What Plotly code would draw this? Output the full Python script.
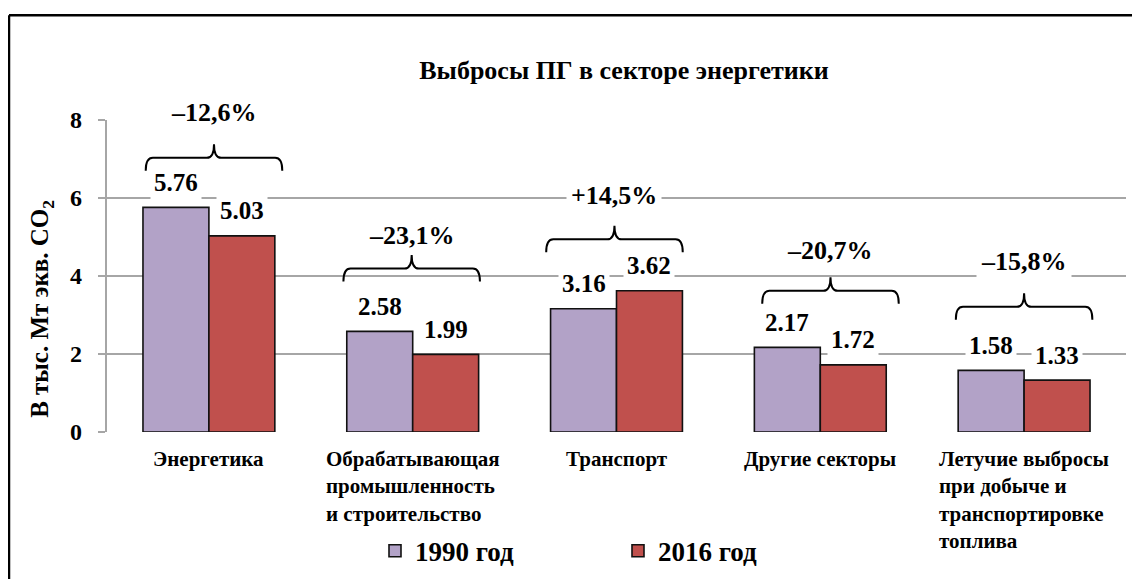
import plotly.graph_objects as go

# ---- data ----
categories = ["Энергетика",
              "Обрабатывающая промышленность и строительство",
              "Транспорт",
              "Другие секторы",
              "Летучие выбросы при добыче и транспортировке топлива"]
tick_labels = ["Энергетика",
               "Обрабатывающая<br>промышленность<br>и строительство",
               "Транспорт",
               "Другие секторы",
               "Летучие выбросы<br>при добыче и<br>транспортировке<br>топлива"]
series_names = ["1990 год", "2016 год"]
values_1990 = [5.76, 2.58, 3.16, 2.17, 1.58]
values_2016 = [5.03, 1.99, 3.62, 1.72, 1.33]
change_labels = ["–12,6%", "–23,1%", "+14,5%", "–20,7%", "–15,8%"]
y_ticks = [0, 2, 4, 6, 8]
Y_MAX = 8

# ---- annotation layout (positions of braces / change labels, in axis units) ----
brace_base = [6.70, 3.86, 4.61, 3.29, 2.88]
brace_shift = [0.025, -0.005, -0.01, 0.05, 0.0]
change_label_y = [8.18, 5.04, 6.07, 4.66, 4.36]

FONT = "Liberation Serif, Times New Roman, serif"
PURPLE = "#B2A2C7"
RED = "#C0504D"
GRID = "#A6A6A6"

fig = go.Figure()
for name, vals, col in [(series_names[0], values_1990, PURPLE),
                        (series_names[1], values_2016, RED)]:
    fig.add_trace(go.Bar(
        x=categories, y=vals, name=name,
        marker=dict(color=col, line=dict(color="#111111", width=1.6)),
        hoverinfo="x+y+name",
    ))

bar_w = (1 - 0.353) / 2
annotations = []
shapes = []

# value labels
for i in range(len(categories)):
    for v, off in [(values_1990[i], -bar_w / 2), (values_2016[i], bar_w / 2)]:
        annotations.append(dict(
            x=i + off, y=v, xref="x", yref="y", text=f"{v:.2f}",
            showarrow=False, yanchor="middle", yshift=25,
            bgcolor="white", borderpad=3,
            font=dict(family=FONT, size=25, color="black", weight="bold")))

# braces and change labels
hw = 0.335
arm = 0.33
tip = 0.35
dx = 0.035
for i in range(len(categories)):
    c = i + brace_shift[i]
    x0, x1 = c - hw, c + hw
    yb = brace_base[i]
    ym = yb + arm
    yt = ym + tip
    path = (f"M {x0},{yb} Q {x0},{ym} {x0+dx},{ym} "
            f"L {c-dx},{ym} Q {c},{ym} {c},{yt} "
            f"Q {c},{ym} {c+dx},{ym} "
            f"L {x1-dx},{ym} Q {x1},{ym} {x1},{yb}")
    shapes.append(dict(type="path", path=path, xref="x", yref="y",
                       line=dict(color="black", width=2)))
    annotations.append(dict(
        x=c, y=change_label_y[i] / Y_MAX, xref="x", yref="paper",
        text=change_labels[i],
        showarrow=False, yanchor="middle", bgcolor="white", borderpad=4,
        font=dict(family=FONT, size=26, color="black", weight="bold")))

# category labels (left aligned blocks)
for i, lab in enumerate(tick_labels):
    annotations.append(dict(
        x=i, y=0, xref="x", yref="paper", text=lab, showarrow=False,
        xanchor="center", yanchor="top", align="left", yshift=-13,
        font=dict(family=FONT, size=21, color="black", weight="bold")))

# y tick labels
for t in y_ticks:
    annotations.append(dict(
        x=-0.0226, y=t / Y_MAX, xref="paper", yref="paper", text=str(t),
        showarrow=False, xanchor="right", yanchor="middle",
        font=dict(family=FONT, size=24, color="black", weight="bold")))

# y-axis title
annotations.append(dict(
    x=-0.0637, y=0.395, xref="paper", yref="paper",
    text="В тыс. Мт экв. CO<sub>2</sub>", textangle=-90, showarrow=False,
    xanchor="center", yanchor="middle",
    font=dict(family=FONT, size=25, color="black", weight="bold")))

# outer border (top and left edges visible)
bx = (1 - 99) / 1019
by = (431 - 5) / 319
shapes.append(dict(type="line", xref="paper", yref="paper",
                   x0=bx, x1=1.1, y0=by, y1=by,
                   line=dict(color="black", width=2.5)))
shapes.append(dict(type="line", xref="paper", yref="paper",
                   x0=bx, x1=bx, y0=-0.6, y1=by,
                   line=dict(color="black", width=2.5)))

fig.update_layout(
    width=1140, height=579,
    margin=dict(l=99, r=22, t=112, b=148),
    paper_bgcolor="white", plot_bgcolor="white",
    barmode="group", bargap=0.353, bargroupgap=0,
    title=dict(text="Выбросы ПГ в секторе энергетики",
               x=616 / 1140, xanchor="center", y=1 - 62 / 579, yanchor="middle",
               font=dict(family=FONT, size=26, color="black", weight="bold")),
    xaxis=dict(type="category", showticklabels=False, showgrid=False,
               showline=False, ticks="", range=[-0.5, 4.5]),
    yaxis=dict(range=[0, Y_MAX], tickvals=y_ticks, showgrid=True,
               gridcolor=GRID, gridwidth=2, zeroline=False,
               showline=True, linecolor=GRID, linewidth=2,
               ticks="outside", ticklen=7, tickcolor=GRID, tickwidth=2,
               showticklabels=False),
    showlegend=True,
    legend=dict(orientation="h", x=0.263, xanchor="left", y=-0.382,
                yanchor="middle", entrywidth=198, entrywidthmode="pixels",
                font=dict(family=FONT, size=27, color="black", weight="bold"),
                bgcolor="rgba(0,0,0,0)"),
    annotations=annotations,
    shapes=shapes,
)

fig.write_html("out.html")
